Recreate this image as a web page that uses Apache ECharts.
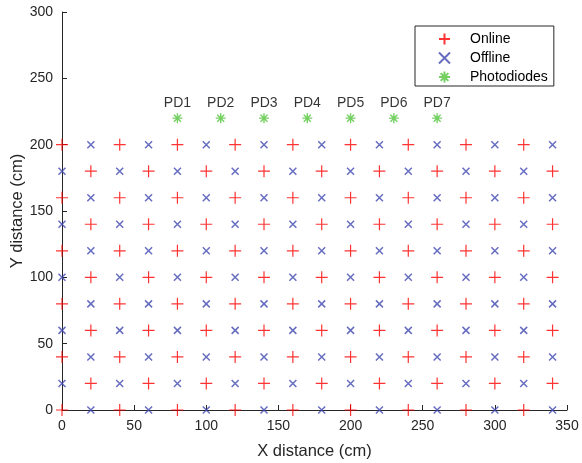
<!DOCTYPE html>
<html>
<head>
<meta charset="utf-8">
<script src="https://cdn.jsdelivr.net/npm/echarts@6/dist/echarts.min.js"></script>
<style>
html,body{margin:0;padding:0;background:#fff;}
#main{width:582px;height:463px;}
</style>
</head>
<body>
<div id="main"></div>
<script>
// grid columns / rows of the measurement points (cm)
var colsA = [0, 40, 80, 120, 160, 200, 240, 280, 320];
var colsB = [20, 60, 100, 140, 180, 220, 260, 300, 340];
var rowsA = [0, 40, 80, 120, 160, 200];
var rowsB = [20, 60, 100, 140, 180];

// photodiodes
var pdX = [80, 110, 140, 170, 200, 230, 260];
var pdY = [220, 220, 220, 220, 220, 220, 220];
var pdLabels = ['PD1', 'PD2', 'PD3', 'PD4', 'PD5', 'PD6', 'PD7'];

// online = (colsA x rowsA) + (colsB x rowsB), offline = the rest
function pairs(xs, ys) {
	var out = [];
	for (var i = 0; i < ys.length; i++) {
		for (var j = 0; j < xs.length; j++) {
			out.push([xs[j], ys[i]]);
		}
	}
	return out;
}
var onlineData = pairs(colsA, rowsA).concat(pairs(colsB, rowsB));
var offlineData = pairs(colsB, rowsA).concat(pairs(colsA, rowsB));
var pdData = [];
for (var k = 0; k < pdX.length; k++) {
	pdData.push({value: [pdX[k], pdY[k]], name: pdLabels[k]});
}

var FONT = 'Liberation Sans, Arial, sans-serif';
var axisColor = '#262626';

var plusPath = 'path://M5,0L5,10M0,5L10,5';
var crossPath = 'path://M0,0L10,10M10,0L0,10';
var starPath = 'path://M5,0L5,10M0,5L10,5M1.5,1.5L8.5,8.5M8.5,1.5L1.5,8.5';

var myChart = echarts.init(document.getElementById('main'));
var option = {
	backgroundColor: '#fff',
	animation: false,
	grid: {left: 62, right: 15, top: 12, bottom: 53, containLabel: false, outerBoundsMode: 'none'},
	legend: {
		orient: 'vertical',
		left: 415,
		top: 26,
		padding: [6, 6, 2, 23],
		itemGap: 5,
		itemWidth: 11,
		itemHeight: 11,
		backgroundColor: '#fff',
		borderColor: '#262626',
		borderWidth: 1,
		borderRadius: 0,
		textStyle: {fontFamily: FONT, fontSize: 14, color: '#000', padding: [0, 0, 0, 15]},
		data: ['Online', 'Offline', 'Photodiodes']
	},
	xAxis: {
		type: 'value',
		min: 0,
		max: 350,
		interval: 50,
		name: 'X distance (cm)',
		nameLocation: 'middle',
		nameGap: 33,
		nameMoveOverlap: false,
		nameTextStyle: {fontFamily: FONT, fontSize: 16.5, color: axisColor},
		axisLine: {show: true, onZero: false, lineStyle: {color: axisColor, width: 1}},
		axisTick: {show: true, inside: true, length: 5, lineStyle: {color: axisColor}},
		axisLabel: {fontFamily: FONT, fontSize: 14, color: axisColor, margin: 9, showMaxLabel: true, showMinLabel: true},
		splitLine: {show: false}
	},
	yAxis: {
		type: 'value',
		min: 0,
		max: 300,
		interval: 50,
		name: 'Y distance (cm)',
		nameLocation: 'middle',
		nameGap: 36,
		nameMoveOverlap: false,
		nameTextStyle: {fontFamily: FONT, fontSize: 16.5, color: axisColor},
		axisLine: {show: true, onZero: false, lineStyle: {color: axisColor, width: 1}},
		axisTick: {show: true, inside: true, length: 5, lineStyle: {color: axisColor}},
		axisLabel: {fontFamily: FONT, fontSize: 14, color: axisColor, margin: 9, showMaxLabel: true, showMinLabel: true},
		splitLine: {show: false}
	},
	series: [
		{
			name: 'Online',
			type: 'scatter',
			clip: false,
			symbol: plusPath,
			symbolSize: 12,
			itemStyle: {color: 'rgba(0,0,0,0)', borderColor: '#ff0000', borderWidth: 1.2},
			data: onlineData
		},
		{
			name: 'Offline',
			type: 'scatter',
			clip: false,
			symbol: crossPath,
			symbolSize: 7,
			itemStyle: {color: 'rgba(0,0,0,0)', borderColor: '#4048b0', borderWidth: 1.5},
			data: offlineData
		},
		{
			name: 'Photodiodes',
			type: 'scatter',
			clip: false,
			symbol: starPath,
			symbolSize: 10,
			itemStyle: {color: 'rgba(0,0,0,0)', borderColor: '#50c43a', borderWidth: 1.4},
			label: {
				show: true,
				position: 'top',
				distance: 2,
				fontFamily: FONT,
				fontSize: 14,
				color: '#000',
				formatter: function(p) { return p.name; }
			},
			data: pdData
		}
	]
};
myChart.setOption(option);
</script>
</body>
</html>
